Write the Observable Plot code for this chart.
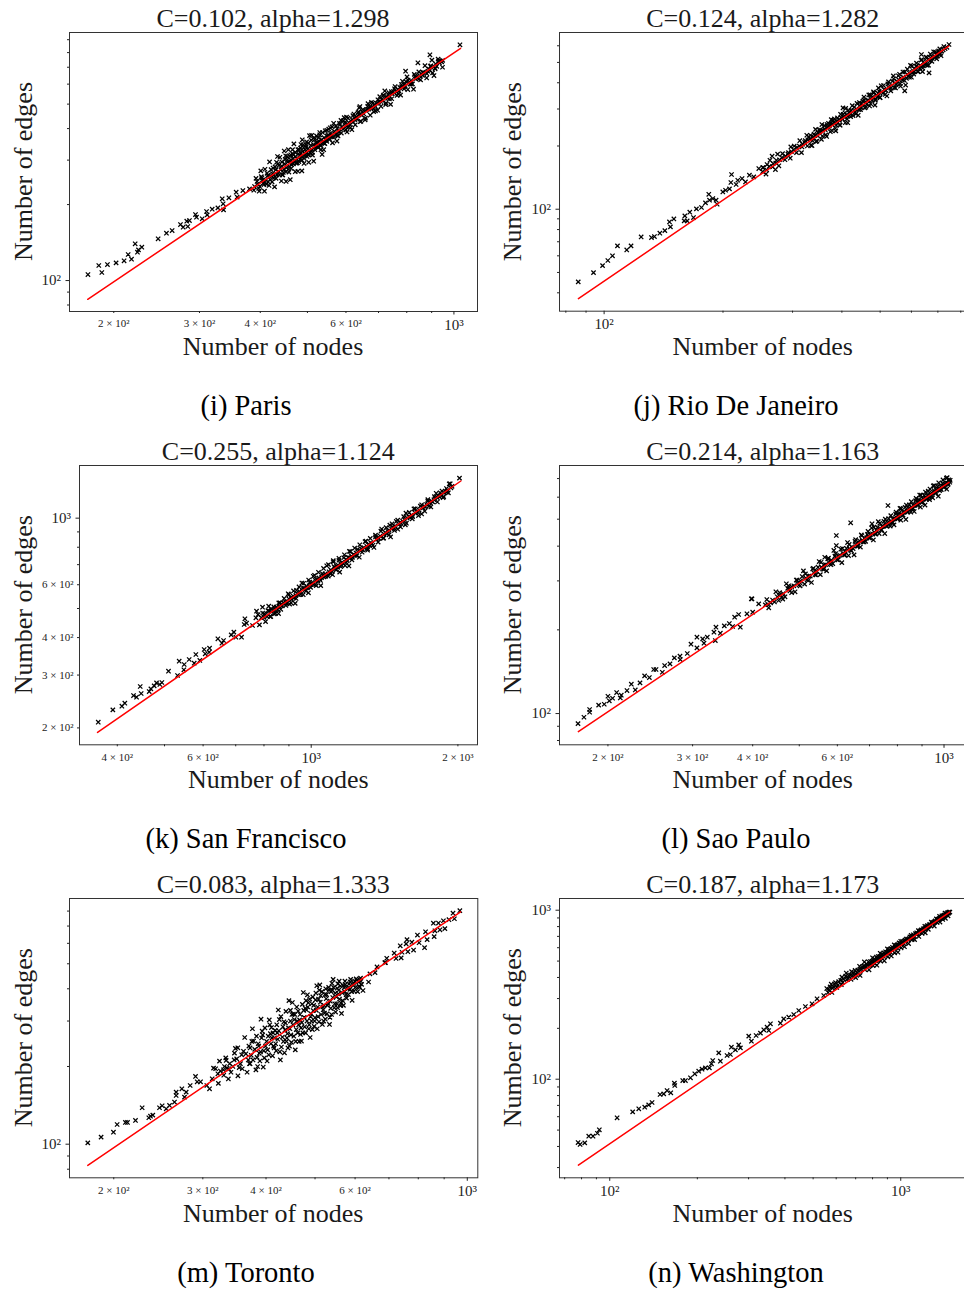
<!DOCTYPE html>
<html><head><meta charset="utf-8">
<script src="https://cdn.jsdelivr.net/npm/d3@7"></script>
<script src="https://cdn.jsdelivr.net/npm/@observablehq/plot@0.6"></script>
<style>
html,body{margin:0;padding:0;background:#fff;}
#page{position:relative;width:964px;height:1290px;overflow:hidden;background:#fff;}
.panel{position:absolute;}
</style></head><body><div id="page"></div>
<script>
// ---------------- data ----------------
const cities = ["Paris","Rio De Janeiro","San Francisco","Sao Paulo","Toronto","Washington"];
const letters = ["i","j","k","l","m","n"];
const fitC = [0.102, 0.124, 0.255, 0.214, 0.083, 0.187];
const fitAlpha = [1.298, 1.282, 1.124, 1.163, 1.333, 1.173];

// fitted line end points [nodes, edges]
const parisFit = [[176.8,84.3],[1032,832]];
const rioFit = [[86.1,37.5],[746,597]];
const sfFit = [[364.4,193.2],[2028,1330]];
const spFit = [[173.6,86.1],[1024.3,678.4]];
const torontoFit = [[177.7,82.8],[970,794.8]];
const washFit = [[78.05,31.0],[1473.7,973.9]];

// [nodes, edges]
const parisPts = [
[177,105.6],[186.3,114.7],[189,107.6],[194.1,115.7],[202.2,117.5],[210,119.7],[214.1,126.8],[217.5,121.5],[221.3,139.8],[223.7,129.5],[224.8,132.3],[228.4,135.6],[246.7,146.3],[256.6,154],[263.6,157.8],[274.2,166.7],[277.7,162.7],[282.5,171.9],[283.9,163.7],[286.1,172.9],[294.4,182.6],[295.8,178.2],[303.9,175.6],[310.2,187.7],[311.2,182.1],[318.6,191.7],[327.3,194.1],[334.1,210.8],[335.6,201.4],[336.2,190.6],[344.8,212.7],[358.6,214],[356.9,223.9],[368.4,227.3],[380.2,230.8],[389.3,235.8],
[392,254],[388,228],[395,241],[398,226],[403,255],[401,272],[406,243],[409,276],[412,241],[414,260],[408,226],[418,295],[422,259],[417,238],[425,279],[428,235],[432,294],[427,262],[434,310],[437,286],[442,248],[439,308],[445,262],[441,275],[448,326],[452,247],[455,301],[447,275],[451,312],[458,269],[462,315],[465,293],[457,330],[461,251],[468,315],[472,270],[469,348],[474,292],[466,330],[478,271],[482,314],[485,346],[477,293],[481,330],[488,361],[492,291],[494,318],[487,272],[491,336],[498,354],[503,294],[501,315],[497,338],[505,375],[512,314],[517,362],[520,340],[510,376],[515,297],[527,368],[533,330],[530,386],[536,316],[525,352],[543,349],[548,394],[540,330],[551,376],[557,403],[563,351],[555,375],[566,420],[578,374],[583,415],[575,357],[586,431],[597,424],[603,388],[595,442],[606,406],[617,396],[623,457],[626,434],[637,466],[644,428],[641,489],[657,433],[663,476],[666,502],[677,508],[684,467],[681,485],[697,473],[704,535],[701,509],[717,543],[724,498],[721,564],[737,524],[744,560],[741,499],[757,587],[764,541],[761,561],[777,543],[784,616],[781,586],[797,614],[804,571],[801,641],[822,601],[829,656],[826,573],[847,671],[854,624],[851,648],[872,710],[879,635],[897,709],[904,665],[901,747],[922,706],[928,754],[948,745],
[1029,859],[892.6,784],[910,649],[947.4,700],[843.3,729],[639,483.6],[601.6,443.9],[795.6,675]
];
const parisCore = [
[394,247],[399,236],[404,250],[411,250],[416,262],[419,251],[424,265],[426,255],[431,275],[433,262],[436,270],[443,284],[446,268],[449,290],[453,280],[456,295],[459,283],[463,300],[464,288],[467,305],[471,296],[473,310],[476,303],[479,318],[483,302],[484,320],[486,310],[489,325],[493,312],[495,330],[499,320],[502,333],[506,322],[508,343],[511,330],[514,346],[518,338],[521,352],[523,340],[528,357],[531,345],[535,362],[538,352],[541,368],[546,360],[549,373],[552,366],[558,384],[561,372],[568,390],[571,380],[576,399],[581,388],[588,406],[592,398],[598,419],[601,408],[608,423],[612,414],[618,434],[621,425],[629,444],[632,436],[638,453],[646,452],[649,466],[653,457],[659,472],[668,478],[672,488],[676,482],[686,498],[690,489],[694,504],[707,512],[711,522],[715,517],[728,536],[731,527],[734,545],[747,549],[751,561],[754,553],[768,571],[771,563],[774,582],[788,586],[791,598],[794,590],[808,608],[812,600],[816,620],[834,630],[838,642],[842,634],[858,658],[862,650],[866,668],[884,675],[888,688],[892,680],[910,705],[914,695],[918,720],[934,728],[938,740],[944,735]
];
const parisBand = [
[397,232],[402,258],[407,240],[413,266],[415,246],[421,275],[423,246],[429,282],[431,254],[435,290],[438,262],[443,295],[444,262],[450,302],[452,270],[454,310],[457,276],[460,311],[463,278],[466,318],[468,290],[472,322],[475,292],[478,330],[480,296],[484,335],[487,300],[490,345],[492,305],[496,346],[499,310],[502,350],[504,315],[509,360],[512,322],[516,368],[518,330],[522,374],[526,336],[530,378],[533,342],[537,386],[541,350],[544,392],[548,356],[553,398],[556,362],[562,406],[566,370],[572,410],[576,376],[582,420],[587,384],[593,430],[600,395],[606,440],[613,404],[620,450],[627,414],[635,462],[642,426],[650,476],[658,440],[665,490],[673,452],[682,505],[690,470],[698,520],[708,490],[716,540],[725,505],[735,555],[745,525],[755,575],[768,548],[780,598],[790,575],[805,622],[818,600],[832,645],[848,630],[862,668],[880,660],[895,705],[915,690],[930,740]
];
const rioPts = [
[86,45.1],[94,49.9],[99.1,53.9],[102.2,57],[105,60],[108.1,66.9],[114.1,64],[117,66.9],[124.1,73.8],[131.8,73.3],[134.1,74.1],[138.4,76.9],[142.5,79.1],[146.4,87],[147.2,82.4],[150.2,89.9],[160.1,93],[159.5,88],[162.3,88],[164.8,96.8],[168.4,91.3],[171.3,100.4],[176.4,101.9],[180.6,107.2],[184.1,117.8],[184.9,110.4],[188.5,112.4],[192.1,110.4],[193.3,105.6],[199.8,120.9],[203,123.1],[207.7,125],[210.2,146.3],[209.4,134],[215.9,131.1],[218,137.4],[223.5,140],[228,134.9],[233.3,145.2],[239.3,142.6],[246.4,156.2],[252.2,157.9],[258.6,163.2],[266.3,178.8],[271.5,154.5],
[253,158],[257,147],[263,171],[267,159],[273,171],[277,161],[275,183],[283,184],[287,172],[293,186],[297,198],[296,175],[303,200],[307,186],[313,212],[317,198],[316,186],[323,212],[327,200],[326,225],[333,225],[337,212],[336,201],[343,240],[347,224],[346,211],[353,239],[357,223],[356,253],[363,239],[367,253],[366,222],[373,254],[377,237],[376,267],[383,269],[387,251],[386,236],[393,267],[397,283],[396,251],[407,288],[412,269],[409,302],[414,258],[422,296],[427,279],[425,311],[437,319],[442,298],[440,280],[452,327],[457,304],[455,342],[467,330],[472,350],[470,310],[482,358],[487,334],[485,313],[497,365],[503,387],[500,340],[517,368],[523,395],[520,346],[537,407],[543,379],[540,431],[557,414],[563,385],[560,439],[577,450],[583,420],[580,390],[597,484],[603,447],[600,425],[617,480],[623,452],[637,516],[643,481],[640,452],[657,526],[663,485],[677,530],[683,562],[697,534],[703,567],
[747,608.5],[665,445.7],[577,366],[636,545.4],[697,551.3],[402.7,303.7]
];
const rioCore = [
[252,151],[258,154],[262,160],[268,165],[272,166],[278,172],[282,176],[288,179],[292,183],[298,188],[302,192],[308,197],[312,200],[318,204],[322,208],[328,214],[332,216],[338,220],[342,224],[348,231],[352,234],[358,238],[362,241],[368,246],[372,249],[378,254],[381,259],[384,256],[388,262],[391,258],[394,265],[399,272],[402,268],[404,276],[411,281],[415,278],[418,288],[420,283],[429,295],[432,290],[435,300],[444,311],[447,305],[449,318],[459,321],[462,316],[464,329],[474,336],[477,330],[479,343],[489,349],[492,344],[494,356],[505,362],[508,357],[512,371],[526,380],[529,387],[532,377],[546,399],[549,393],[552,406],[566,418],[569,412],[572,426],[586,438],[589,431],[592,446],[606,456],[609,450],[612,464],[626,475],[629,469],[632,484],[646,495],[649,489],[652,505],[666,515],[669,508],[672,524],[686,534],[690,529],[694,546],[705,555],[710,548],[716,566],[722,574],[730,582],[738,590]
];
const rioBand = [
[330,221],[334,202],[340,228],[344,210],[351,238],[355,215],[361,250],[364,226],[370,256],[374,234],[380,265],[385,243],[390,272],[395,252],[403,283],[408,258],[416,296],[421,276],[430,306],[434,284],[443,322],[446,298],[455,332],[460,306],[468,350],[473,318],[481,362],[486,330],[495,378],[499,340],[510,388],[515,352],[525,404],[532,366],[541,418],[547,378],[556,432],[562,396],[571,450],[576,410],[586,464],[593,425],[602,480],[608,440],[618,496],[624,452],[635,512],[641,470],[653,530],[658,484],[670,548],[676,506],[690,560],[695,520],[708,580],[713,538],[725,595]
];
const sfPts = [
[365.6,209],[391.7,229.7],[408.8,236.3],[414.5,241.8],[431.9,256.4],[438.1,253.2],[445.8,274.8],[447.8,260.4],[465.1,264.4],[468.8,269.9],[476.2,276.2],[481.5,282.6],[489.1,279.1],[493.8,283.4],[509.5,309.1],[531.7,299],[535.9,333.8],[547.9,312.3],[548.8,325.3],[561.8,338.1],[575.3,328.7],[579.8,351.3],[590.8,335.6],[603.1,365],[606,353.1],[618.6,368.8],[617.6,357.6],[643.4,396.2],[655.7,383.2],[660.9,391.1],[685.2,408.5],[693.9,417],[700.5,401.2],[719.5,401.2],[728.6,442.3],[731,461.9],[736.7,446.8],[757.9,438.8],[772.3,489.8],[770,465.5],[794.5,505],[800.7,480],[826.4,498.8],[839.6,480],
[778,477],[783,441],[818,509],[823,471],[820,490],[857,481],[863,522],[860,507],[897,560],[903,517],[900,538],[927,520],[933,575],[930,553],[957,608],[963,556],[960,585],[987,564],[993,612],[990,594],[1016,645],[1024,596],[1020,620],[1046,596],[1054,653],[1050,634],[1076,694],[1084,641],[1106,648],[1114,689],[1110,722],[1136,696],[1144,661],[1140,724],[1166,738],[1174,695],[1195,693],[1205,774],[1200,737],[1245,787],[1255,741],[1295,838],[1305,782],[1300,806],[1345,799],[1355,866],[1395,920],[1405,858],[1445,912],[1455,866],[1450,948],[1495,975],[1505,919],[1555,990],[1565,1039],[1560,950],[1615,1012],[1625,1074],[1675,1097],[1685,1033],[1735,1153],[1745,1097],[1795,1163],[1805,1210],[1855,1231],[1865,1171],[1920,1301],
[2015,1359.5],[1929,1302]
];
const sfCore = [
[790,466],[800,467],[805,478],[812,470],[828,488],[835,492],[842,494],[848,505],[853,495],[868,516],[872,510],[878,523],[885,527],[890,520],[908,544],[912,536],[918,550],[922,542],[938,560],[942,556],[946,570],[968,584],[972,578],[978,593],[982,586],[998,600],[1003,610],[1008,603],[1028,624],[1032,618],[1037,632],[1041,627],[1058,642],[1062,637],[1068,652],[1072,646],[1088,663],[1092,656],[1097,672],[1102,666],[1118,684],[1122,678],[1127,692],[1132,686],[1148,706],[1152,698],[1157,713],[1162,706],[1180,728],[1186,720],[1192,740],[1210,747],[1215,740],[1222,756],[1230,752],[1236,765],[1262,778],[1268,790],[1275,784],[1282,798],[1312,818],[1318,810],[1325,828],[1332,822],[1362,850],[1370,862],[1378,856],[1385,872],[1412,884],[1420,896],[1428,888],[1436,904],[1462,920],[1470,934],[1478,928],[1486,942],[1515,956],[1522,968],[1530,962],[1540,978],[1575,1000],[1585,1012],[1595,1006],[1605,1024],[1635,1040],[1645,1052],[1655,1046],[1665,1064],[1695,1082],[1705,1096],[1715,1090],[1725,1110],[1755,1126],[1765,1140],[1775,1134],[1785,1152],[1815,1170],[1825,1184],[1835,1178],[1845,1196],[1875,1214],[1885,1228],[1895,1222],[1905,1240],[1935,1262],[1945,1276]
];
const sfBand = [
[795,483],[806,452],[815,492],[826,470],[838,506],[845,482],[858,522],[866,497],[880,540],[887,512],[900,556],[909,522],[920,572],[931,540],[944,590],[952,557],[965,607],[975,572],[988,622],[997,588],[1010,640],[1020,602],[1035,660],[1045,620],[1060,680],[1070,640],[1085,700],[1095,655],[1110,715],[1125,672],[1140,735],[1150,690],[1170,755],[1180,712],[1198,775],[1212,726],[1228,795],[1240,750],[1258,815],[1272,770],[1290,835],[1305,790],[1322,856],[1338,812],[1355,878],[1372,832],[1390,905],[1408,858],[1425,930],[1445,880],[1465,958],[1482,910],[1505,985],[1525,935],[1548,1012],[1568,962],[1590,1045],[1612,995],[1635,1075],[1660,1020],[1685,1108],[1710,1055],[1735,1140],[1760,1090],[1790,1180],[1815,1132],[1840,1215],[1870,1180],[1895,1255],[1912,1215]
];
const spPts = [
[173.3,92],[178.3,97],[183.2,103.4],[183.2,101.1],[191.3,107.2],[196.5,108],[200,115.4],[201.3,111.1],[204.5,113.5],[208.5,119],[212.2,113.8],[213.2,116.4],[219.1,121],[223.7,127.5],[228,121.6],[233.2,128.9],[238.4,136.6],[243.9,134.7],[249,144],[251.8,144],[259.5,140.8],[262.4,148.8],[269.2,150.9],[274.9,158.6],[282.4,160.8],[282.8,156.4],[292.5,164.4],[297.7,177.6],[306.3,172.3],[306.3,188.2],[314.8,185.6],[316.8,179.1],[321.9,188.2],[332.3,196.1],[334.5,183],[335.5,204.4],[342.6,194.5],[349.2,206.7],[357.7,210.7],[363.4,205.6],[366.9,222.1],[374,227.1],[377,204.4],[389.2,228.4],[398.6,258.5],[400,231.5],[411.7,248],
[428,257],[432,240],[430,247],[447,274],[453,255],[450,263],[467,263],[473,282],[470,293],[487,288],[493,302],[490,274],[507,311],[513,292],[510,326],[527,312],[533,331],[530,296],[547,336],[553,316],[550,352],[567,343],[573,360],[570,326],[587,346],[593,368],[590,386],[607,371],[613,349],[610,390],[627,393],[633,370],[630,412],[647,392],[653,416],[650,372],[667,418],[673,439],[670,397],[687,416],[693,441],[690,428],[707,465],[713,421],[710,443],[727,467],[733,444],[730,490],[747,472],[753,444],[750,491],[767,502],[773,472],[770,487],[787,477],[793,522],[790,502],[807,527],[813,496],[810,547],[827,531],[833,499],[830,552],[847,563],[853,530],[850,546],[867,533],[873,583],[870,561],[887,588],[893,553],[890,611],[907,591],[913,562],[910,609],[927,631],[933,588],[930,606],[947,597],[953,634],[950,659],[967,637],[973,605],[970,656],[987,639],[993,672],[1007,668],[1013,641],[1022,693],[1028,679],
[639.5,485.3],[597.1,436.9],[597.1,402],[708.4,481.3],[764.6,560.1],[1011.6,702.1],[564.9,364.9],[397.5,258.6]
];
const spCore = [
[425,246],[436,250],[440,256],[444,252],[456,266],[460,262],[463,270],[476,280],[478,276],[482,286],[496,294],[499,290],[503,300],[516,307],[519,303],[523,312],[536,321],[539,316],[543,326],[556,336],[559,331],[563,342],[576,350],[579,345],[583,356],[596,363],[599,358],[603,369],[616,377],[619,372],[623,383],[636,392],[639,387],[643,398],[656,405],[659,400],[663,413],[676,420],[679,414],[683,427],[696,434],[699,428],[703,441],[716,449],[719,443],[723,456],[736,463],[739,457],[743,471],[756,478],[759,472],[763,486],[776,492],[779,486],[783,500],[796,508],[799,501],[803,516],[816,522],[819,515],[823,530],[836,537],[839,530],[843,546],[856,552],[859,545],[863,561],[876,567],[879,560],[883,576],[896,582],[899,574],[903,592],[916,597],[919,589],[923,607],[936,612],[939,604],[943,622],[956,627],[959,619],[963,638],[976,643],[979,634],[983,654],[996,658],[999,650],[1003,670],[1016,674],[1019,666],[1024,688],[1030,690]
];
const spBand = [
[455,272],[462,258],[475,288],[482,272],[495,302],[502,288],[515,318],[522,301],[535,333],[542,315],[555,350],[562,330],[575,362],[582,343],[595,376],[602,357],[615,392],[622,372],[635,406],[642,385],[655,422],[662,400],[675,436],[682,414],[695,452],[702,428],[715,468],[722,442],[735,483],[742,458],[755,500],[762,472],[775,515],[782,488],[795,530],[802,502],[815,546],[822,518],[835,562],[842,532],[855,578],[862,548],[875,594],[882,564],[895,610],[902,578],[915,626],[922,594],[935,642],[942,610],[955,660],[962,624],[975,676],[982,640],[995,692],[1002,656],[1015,705],[1020,672]
];
const torontoPts = [
[177.7,101.2],[188.8,106.5],[199.7,111.3],[203.1,119.2],[210.9,121.4],[212.9,121.4],[220.8,123.6],[227.6,138.4],[234.6,126.6],[236.4,128.4],[238.9,129.6],[246.3,138.4],[249.3,140.9],[253.9,137.1],[257.8,141.3],[263.7,145.6],[265.7,159.1],[265.7,154.4],[272.7,163.9],[276,152.2],[278.1,159.1],[283.2,168.8],[290.2,183],[292.4,174.5],[296.9,174.5],[305.5,168.8],[309.3,163.9],[313.1,179.2],[315,197.1],[321.3,187.4],[323.7,209.8],[329.6,194.2],[333.6,211.1],[337.7,195.9],[346.5,225.3],[351.8,236.3],
[318,196],[322,172],[333,216],[337,179],[335,197],[348,235],[352,184],[346,212],[354,198],[363,259],[367,190],[361,229],[369,212],[378,251],[382,194],[376,280],[384,217],[380,233],[393,274],[397,216],[391,305],[399,240],[395,199],[408,268],[412,220],[406,303],[414,240],[410,283],[423,331],[427,212],[421,270],[429,238],[425,304],[438,327],[442,236],[436,277],[444,360],[440,258],[453,319],[457,232],[451,354],[459,278],[455,304],[468,266],[472,348],[466,303],[474,387],[470,251],[483,379],[487,290],[481,331],[489,259],[485,353],[498,286],[502,385],[496,329],[504,411],[500,309],[513,376],[517,291],[511,414],[519,332],[528,320],[532,405],[526,366],[534,291],[543,435],[547,350],[541,395],[549,325],[558,428],[562,344],[556,382],[564,321],[573,428],[577,368],[571,404],[588,435],[592,361],[586,398],[603,437],[607,390],[618,416],[622,394],[638,425],[642,457],[657,462],[663,486],[687,505],[693,525],[717,550],[723,524],[737,587],[743,554],[740,527],[757,597],[763,557],[760,620],[777,606],[783,565],[797,646],[803,603],[827,665],[833,620],[857,718],[863,671],[860,637],[877,719],[883,677],[897,734],[903,684],[920,741],[937,785],[943,747],
[966.7,803],[823.2,577],[689,505]
];
const torontoCore = [
[325,192],[330,185],[331,200],[339,205],[341,190],[344,200],[350,214],[356,205],[358,222],[359,196],[365,224],[371,205],[372,236],[374,221],[386,245],[388,225],[389,210],[392,258],[401,250],[403,232],[404,262],[405,222],[416,258],[417,276],[418,245],[419,230],[431,260],[432,285],[433,250],[434,298],[435,226],[446,280],[447,300],[448,265],[449,248],[450,318],[461,300],[462,270],[463,328],[464,290],[465,250],[476,310],[477,285],[478,336],[479,270],[480,360],[491,320],[492,300],[493,350],[494,278],[495,372],[506,340],[507,312],[508,365],[509,298],[510,395],[521,345],[522,322],[523,380],[524,305],[525,400],[536,358],[537,336],[538,390],[539,318],[540,420],[551,372],[552,350],[553,402],[554,338],[555,418],[566,386],[567,360],[568,412],[569,345],[580,400],[582,380],[584,418],[595,412],[597,392],[599,428],[610,425],[612,405],[615,440]
];
const torontoBand = [
[370,240],[372,205],[375,250],[377,212],[383,262],[385,200],[387,240],[390,228],[394,265],[396,230],[398,282],[402,210],[407,290],[409,245],[411,258],[413,270],[415,236],[420,290],[422,255],[424,275],[426,228],[428,312],[437,295],[439,250],[441,268],[443,282],[445,240],[447,330],[452,290],[454,262],[456,318],[458,250],[460,340],[467,318],[469,282],[471,296],[473,270],[475,330],[482,300],[484,340],[486,280],[488,365],[490,312],[497,345],[499,300],[501,362],[503,330],[505,280],[512,355],[514,318],[516,390],[518,340],[520,300],[527,380],[529,345],[531,350],[533,395],[535,310],[542,370],[544,405],[546,338],[548,385],[557,395],[559,365],[561,410],[563,352],[572,390],[574,415],[576,380],[583,405],[587,425],[591,390],[596,420],[601,405],[605,432],[611,410],[616,428]
];
const washPts = [
[77.85,42.2],[79.1,41.1],[82.05,42],[84.7,46],[87.6,46],[90.7,47.9],[92.1,50.2],[106,59.1],[119.9,64.1],[125.8,66.8],[131.9,68.3],[136.1,70.5],[139.8,72.8],[148.9,81.2],[153.3,81.9],[157.4,85.7],[162.1,83.1],[166.8,94.7],[167.3,91.8],[178.2,98.2],[182,98.2],[189.4,101.9],[196,107.6],[202.2,111.5],[207.6,114.6],[213.2,116.7],[220,116.7],[223.6,123.3],[225.9,129],[236.9,143.2],[240,127.8],[253,138.1],[259.8,140],[261.8,154.7],[270.3,149.2],[277.5,159.7],[281.2,153.3],[300.4,179.8],[306.8,167.9],[318.4,181.4],[329.5,187.3],[338.3,196],[347.3,203.2],[356.6,212.7],[351.9,194.2],[385.9,214.6],[396.2,227.6],[412.3,232.8],[428.9,241.4],[446.2,255],[470.3,269.3],[495.8,279.3],[515.8,299],[543.7,312.9],
[557,344],[563,326],[577,365],[583,346],[580,326],[597,373],[603,349],[622,384],[628,402],[625,363],[647,407],[653,388],[650,425],[672,413],[678,433],[675,390],[697,440],[703,419],[700,399],[722,466],[728,441],[725,411],[747,467],[753,445],[750,494],[772,472],[778,444],[775,495],[797,499],[803,470],[800,523],[822,503],[828,473],[825,528],[847,531],[853,500],[850,556],[872,533],[878,502],[875,560],[897,562],[903,530],[900,590],[922,564],[928,536],[925,592],[947,594],[953,559],[950,623],[972,600],[978,564],[975,624],[997,637],[1003,599],[1000,655],[1026,633],[1034,665],[1030,608],[1056,674],[1064,635],[1086,710],[1094,669],[1090,683],[1116,670],[1124,727],[1146,728],[1154,699],[1150,757],[1176,765],[1184,728],[1206,773],[1214,734],[1210,803],[1236,811],[1244,771],[1266,810],[1274,851],[1296,849],[1304,806],[1326,889],[1334,846],[1356,886],[1364,851],[1360,921],[1386,927],[1394,882],[1416,932],[1424,895],[1420,960],[1446,965],[1454,926],[1475,974]
];
const washCore = [
[567,338],[572,352],[588,352],[592,366],[608,360],[612,378],[632,375],[636,392],[658,395],[662,410],[683,410],[688,425],[708,428],[712,442],[733,448],[737,462],[758,465],[762,480],[783,482],[787,497],[808,500],[812,515],[833,518],[837,532],[858,535],[862,550],[883,552],[887,568],[908,570],[912,585],[933,588],[937,603],[958,605],[962,620],[983,625],[987,640],[1010,640],[1015,655],[1040,660],[1045,675],[1070,680],[1075,695],[1100,700],[1105,715],[1130,720],[1135,735],[1160,740],[1165,755],[1190,762],[1195,776],[1220,785],[1225,798],[1250,805],[1255,820],[1280,828],[1285,842],[1310,850],[1315,864],[1340,872],[1345,886],[1370,895],[1375,908],[1400,918],[1405,930],[1430,940],[1435,952],[1460,960],[1465,975]
];
const washBand = [
[810,488],[860,525],[910,560],[960,598],[1010,630],[1060,668],[1110,700],[1160,746],[1210,782],[1260,822],[1310,858],[1360,897],[1410,935],[1455,965],[785,470],[835,505],[885,545],[935,578],[985,612],[1035,650],[1085,690],[1135,722],[1185,758],[1235,798],[1285,835],[1335,878],[1385,915],[1435,945]
];

// tick values
const xTicksMajor = [[1000],[100],[1000],[1000],[1000],[100,1000]];
const xTicksMinorLabeled = [[200,300,400,600],[],[400,600,2000],[200,300,400,600],[200,300,400,600],[]];
const xTicksMinor = [[500,700,800,900],[80,90,200,300,400,500,600,700,800],[500,700,800,900],[500,700,800,900],[500,700,800,900],[70,80,90,200,300,400,500,600,700,800,900]];
const yTicksMajor = [[100],[100],[1000],[100],[100],[100,1000]];
const yTicksMinorLabeled = [[],[],[200,300,400,600],[],[],[]];
const yTicksMinor = [[80,90,200,300,400,500,600,700,800,900],[40,50,60,70,80,90,200,300,400,500,600],[500,700,800,900],[80,90,200,300,400,500,600,700],[80,90,200,300,400,500,600,700,800],[30,40,50,60,70,80,90,200,300,400,500,600,700,800,900]];

const ptsList = [
  parisPts.concat(parisCore, parisBand),
  rioPts.concat(rioCore, rioBand),
  sfPts.concat(sfCore, sfBand),
  spPts.concat(spCore, spBand),
  torontoPts.concat(torontoCore, torontoBand),
  washPts.concat(washCore, washBand)
];
const fitList = [parisFit, rioFit, sfFit, spFit, torontoFit, washFit];

// ---------------- layout ----------------
const layout = [
  {frame:[69,32,477,311], xdom:[162.2,1118], ydom:[75.4,961]},
  {frame:[558.7,32.3,966.7,311], xdom:[77.1,832], ydom:[32.7,694]},
  {frame:[79.3,465,477.3,744.3], xdom:[334.6,2194], ydom:[175.7,1498]},
  {frame:[558.7,465,966.7,744.3], xdom:[158.6,1119], ydom:[77.2,780]},
  {frame:[69,898,477.3,1177.3], xdom:[163.5,1049], ydom:[74.1,895]},
  {frame:[558.7,898,966.7,1177.3], xdom:[67.2,1696], ydom:[26.1,1173]}
];
const rowTitleBase = [26.5, 460, 892.5];
const rowXLabelBase = [355, 788, 1222];
const rowCaptionBase = [415, 848, 1282];
const colYLabelBase = [31.5, 521];
const colCaptionX = [246, 736];

const sup = {1:"¹",2:"²",3:"³"};
const fmtMajor = v => "10" + sup[Math.round(Math.log10(v))];
const fmtMinor = v => { const e = Math.floor(Math.log10(v) + 1e-9); const m = Math.round(v / Math.pow(10, e)); return m + " × 10" + sup[e]; };

const page = document.getElementById("page");
const FONT = "'Liberation Serif', 'Times New Roman', serif";

layout.forEach((L, i) => {
  const [fl, ft, fr, fb] = L.frame;
  const mL = 75, mT = 10, mR = 10, mB = 35;
  const W = fr - fl + mL + mR, H = fb - ft + mT + mB;
  const marks = [
    Plot.dot(ptsList[i], {x: d => d[0], y: d => d[1], symbol: "times", r: 2.1, stroke: "#000", strokeWidth: 1.25}),
    Plot.line(fitList[i], {x: d => d[0], y: d => d[1], stroke: "#ff0000", strokeWidth: 1.5}),
    Plot.frame({stroke: "#333", strokeWidth: 1}),
    Plot.axisX({ticks: xTicksMajor[i], tickSize: 3.5, tickPadding: 4, fontSize: 15, tickFormat: fmtMajor, label: null}),
    Plot.axisX({ticks: xTicksMinor[i], tickSize: 2, tickFormat: () => "", label: null}),
    Plot.axisY({ticks: yTicksMajor[i], tickSize: 3.5, tickPadding: 5, fontSize: 15, tickFormat: fmtMajor, label: null}),
    Plot.axisY({ticks: yTicksMinor[i], tickSize: 2, tickFormat: () => "", label: null})
  ];
  if (xTicksMinorLabeled[i].length) marks.push(Plot.axisX({ticks: xTicksMinorLabeled[i], tickSize: 2, tickPadding: 6, fontSize: 11, tickFormat: fmtMinor, label: null}));
  if (yTicksMinorLabeled[i].length) marks.push(Plot.axisY({ticks: yTicksMinorLabeled[i], tickSize: 2, tickPadding: 4, fontSize: 11, tickFormat: fmtMinor, label: null}));
  const chart = Plot.plot({
    width: W, height: H,
    marginLeft: mL, marginTop: mT, marginRight: mR, marginBottom: mB,
    style: {background: "transparent", color: "#222", fontFamily: FONT, overflow: "visible"},
    x: {type: "log", domain: L.xdom, axis: null},
    y: {type: "log", domain: L.ydom, axis: null},
    marks
  });
  chart.style.maxWidth = "none";
  const div = document.createElement("div");
  div.className = "panel";
  div.style.left = (fl - mL) + "px";
  div.style.top = (ft - mT) + "px";
  div.style.width = W + "px";
  div.style.height = H + "px";
  div.appendChild(chart);
  page.appendChild(div);
});

// text overlay: titles, axis labels, captions
const svg = d3.create("svg").attr("width", 964).attr("height", 1290)
  .style("position", "absolute").style("left", "0px").style("top", "0px")
  .style("font-family", FONT);
layout.forEach((L, i) => {
  const [fl, ft, fr, fb] = L.frame;
  const row = Math.floor(i / 2), col = i % 2;
  const cx = (fl + fr) / 2;
  svg.append("text").attr("x", cx).attr("y", rowTitleBase[row]).attr("text-anchor", "middle")
    .attr("font-size", 26).attr("fill", "#1a1a1a")
    .text("C=" + fitC[i].toFixed(3) + ", alpha=" + fitAlpha[i].toFixed(3));
  svg.append("text").attr("x", cx).attr("y", rowXLabelBase[row]).attr("text-anchor", "middle")
    .attr("font-size", 26).attr("fill", "#1a1a1a").text("Number of nodes");
  const cy = (ft + fb) / 2;
  svg.append("text").attr("transform", `translate(${colYLabelBase[col]},${cy}) rotate(-90)`)
    .attr("text-anchor", "middle").attr("font-size", 26).attr("fill", "#1a1a1a").text("Number of edges");
  svg.append("text").attr("x", colCaptionX[col]).attr("y", rowCaptionBase[row]).attr("text-anchor", "middle")
    .attr("font-size", 28.5).attr("fill", "#000").text("(" + letters[i] + ") " + cities[i]);
});
page.appendChild(svg.node());
</script>
</body></html>
